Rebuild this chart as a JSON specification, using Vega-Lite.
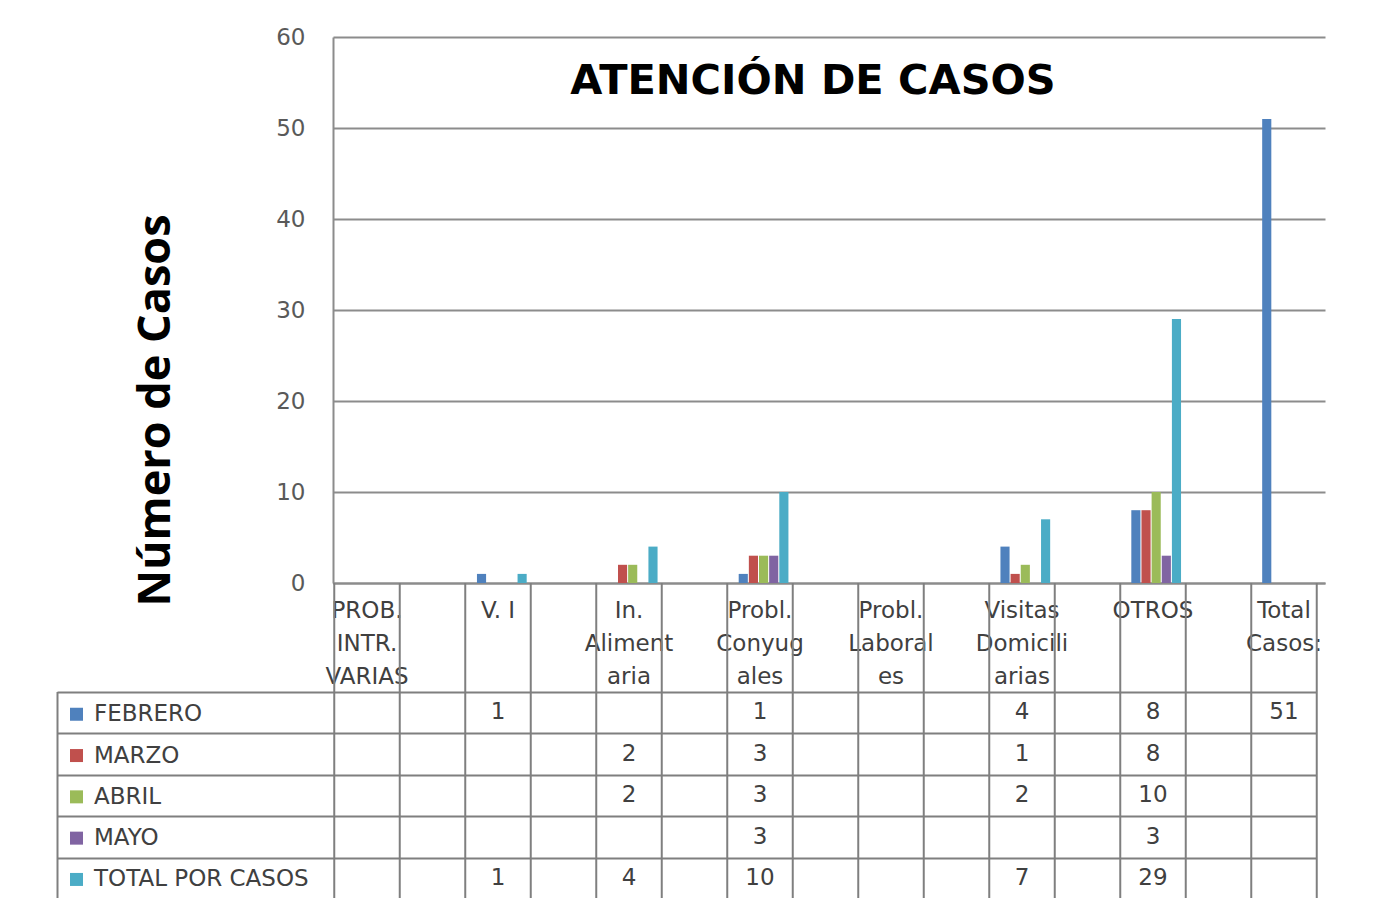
{
  "$schema": "https://vega.github.io/schema/vega-lite/v6.json",
  "background": "white",
  "padding": {"left": 56, "top": 26, "right": 5, "bottom": 0},
  "config": {"view": {"stroke": null}, "font": "DejaVu Sans"},
  "spacing": 0,
  "bounds": "flush",
  "datasets": {
    "cases": [
      {"categoria": "V. I", "serie": "FEBRERO", "casos": 1},
      {"categoria": "V. I", "serie": "TOTAL POR CASOS", "casos": 1},
      {"categoria": "In. Alimentaria", "serie": "MARZO", "casos": 2},
      {"categoria": "In. Alimentaria", "serie": "ABRIL", "casos": 2},
      {"categoria": "In. Alimentaria", "serie": "TOTAL POR CASOS", "casos": 4},
      {"categoria": "Probl. Conyugales", "serie": "FEBRERO", "casos": 1},
      {"categoria": "Probl. Conyugales", "serie": "MARZO", "casos": 3},
      {"categoria": "Probl. Conyugales", "serie": "ABRIL", "casos": 3},
      {"categoria": "Probl. Conyugales", "serie": "MAYO", "casos": 3},
      {"categoria": "Probl. Conyugales", "serie": "TOTAL POR CASOS", "casos": 10},
      {"categoria": "Visitas Domiciliarias", "serie": "FEBRERO", "casos": 4},
      {"categoria": "Visitas Domiciliarias", "serie": "MARZO", "casos": 1},
      {"categoria": "Visitas Domiciliarias", "serie": "ABRIL", "casos": 2},
      {"categoria": "Visitas Domiciliarias", "serie": "TOTAL POR CASOS", "casos": 7},
      {"categoria": "OTROS", "serie": "FEBRERO", "casos": 8},
      {"categoria": "OTROS", "serie": "MARZO", "casos": 8},
      {"categoria": "OTROS", "serie": "ABRIL", "casos": 10},
      {"categoria": "OTROS", "serie": "MAYO", "casos": 3},
      {"categoria": "OTROS", "serie": "TOTAL POR CASOS", "casos": 29},
      {"categoria": "Total Casos:", "serie": "FEBRERO", "casos": 51}
    ],
    "cats": [
      {"categoria": "PROB. INTR. VARIAS"},
      {"categoria": "V. I"},
      {"categoria": "In. Alimentaria"},
      {"categoria": "Probl. Conyugales"},
      {"categoria": "Probl. Laborales"},
      {"categoria": "Visitas Domiciliarias"},
      {"categoria": "OTROS"},
      {"categoria": "Total Casos:"}
    ]
  },
  "vconcat": [
    {
      "width": 992,
      "height": 546,
      "data": {"name": "cases"},
      "title": {"text": "ATENCIÓN DE CASOS", "font": "DejaVu Sans", "fontSize": 41.5, "fontWeight": "bold", "color": "#000000", "anchor": "middle", "baseline": "top", "offset": -76, "dx": -16},
      "mark": {"type": "bar"},
      "encoding": {
        "x": {
          "field": "categoria", "type": "nominal",
          "scale": {"domain": ["PROB. INTR. VARIAS", "V. I", "In. Alimentaria", "Probl. Conyugales", "Probl. Laborales", "Visitas Domiciliarias", "OTROS", "Total Casos:"], "paddingInner": 0.62, "paddingOuter": 0.1},
          "axis": {"labels": false, "ticks": false, "title": null, "grid": false, "domainColor": "#8c8c8c", "domainWidth": 2}
        },
        "xOffset": {"field": "serie", "type": "nominal", "scale": {"domain": ["FEBRERO", "MARZO", "ABRIL", "MAYO", "TOTAL POR CASOS"], "paddingInner": 0.1}},
        "y": {
          "field": "casos", "type": "quantitative",
          "scale": {"domain": [0, 60], "nice": false},
          "axis": {"values": [0, 10, 20, 30, 40, 50, 60], "title": "Número de Casos", "titleFont": "Open Sans", "titleFontSize": 45, "titleFontWeight": "bold", "titleColor": "#000000", "titleAngle": 270, "titleX": -178, "titleY": 373, "titleAlign": "center", "titleBaseline": "middle", "labelFont": "DejaVu Sans", "labelFontSize": 23, "labelColor": "#595959", "labelPadding": 28, "ticks": false, "domainColor": "#8c8c8c", "domainWidth": 2, "gridColor": "#8c8c8c", "gridWidth": 2}
        },
        "color": {
          "field": "serie", "type": "nominal",
          "scale": {"domain": ["FEBRERO", "MARZO", "ABRIL", "MAYO", "TOTAL POR CASOS"], "range": ["#4F81BD", "#C0504D", "#9BBB59", "#8064A2", "#4BACC6"]},
          "legend": {"orient": "none", "legendX": -268, "legendY": 665.75, "title": null, "symbolType": "square", "symbolSize": 169, "symbolStrokeWidth": 0, "labelFont": "DejaVu Sans", "labelFontSize": 23, "labelColor": "#404040", "labelLimit": 0, "rowPadding": 17.3, "labelOffset": 6, "direction": "vertical"}
        }
      }
    },
    {
      "width": 983,
      "height": 316,
      "layer": [
        {
          "data": {"name": "cats"},
          "mark": {"type": "rule", "color": "#7f7f7f", "strokeWidth": 2},
          "encoding": {
            "x": {"field": "categoria", "type": "nominal", "bandPosition": 0.25, "scale": {"domain": ["PROB. INTR. VARIAS", "V. I", "In. Alimentaria", "Probl. Conyugales", "Probl. Laborales", "Visitas Domiciliarias", "OTROS", "Total Casos:"], "range": [-31.5, 1016.5], "paddingInner": 0, "paddingOuter": 0}}
          }
        },
        {
          "data": {"name": "cats"},
          "mark": {"type": "rule", "color": "#7f7f7f", "strokeWidth": 2},
          "encoding": {
            "x": {"field": "categoria", "type": "nominal", "bandPosition": 0.75, "scale": {"domain": ["PROB. INTR. VARIAS", "V. I", "In. Alimentaria", "Probl. Conyugales", "Probl. Laborales", "Visitas Domiciliarias", "OTROS", "Total Casos:"], "range": [-31.5, 1016.5], "paddingInner": 0, "paddingOuter": 0}}
          }
        },
        {
          "data": {"name": "cases"},
          "mark": {"type": "text", "font": "DejaVu Sans", "fontSize": 23, "color": "#404040"},
          "encoding": {
            "x": {
              "field": "categoria", "type": "nominal",
              "scale": {"domain": ["PROB. INTR. VARIAS", "V. I", "In. Alimentaria", "Probl. Conyugales", "Probl. Laborales", "Visitas Domiciliarias", "OTROS", "Total Casos:"], "range": [-31.5, 1016.5], "paddingInner": 0, "paddingOuter": 0},
              "axis": {"orient": "top", "title": null, "domain": false, "ticks": false, "grid": false, "labelAngle": 0, "labelAlign": "center", "labelFont": "DejaVu Sans", "labelFontSize": 23, "labelColor": "#404040", "labelBaseline": "top", "labelPadding": -16, "labelLineHeight": 33, "labelLimit": 0,
                "labelExpr": "datum.label == 'PROB. INTR. VARIAS' ? ['PROB.', 'INTR.', 'VARIAS'] : datum.label == 'In. Alimentaria' ? ['In.', 'Aliment', 'aria'] : datum.label == 'Probl. Conyugales' ? ['Probl.', 'Conyug', 'ales'] : datum.label == 'Probl. Laborales' ? ['Probl.', 'Laboral', 'es'] : datum.label == 'Visitas Domiciliarias' ? ['Visitas', 'Domicili', 'arias'] : datum.label == 'Total Casos:' ? ['Total', 'Casos:'] : datum.label"}
            },
            "y": {
              "field": "serie", "type": "nominal",
              "scale": {"domain": ["FEBRERO", "MARZO", "ABRIL", "MAYO", "TOTAL POR CASOS"], "range": [108.5, 316], "paddingInner": 0, "paddingOuter": 0},
              "axis": {"orient": "left", "offset": 276, "tickSize": -1259, "tickBand": "extent", "labels": false, "title": null, "grid": false, "domainColor": "#7f7f7f", "domainWidth": 2, "tickColor": "#7f7f7f", "tickWidth": 2}
            },
            "text": {"field": "casos", "type": "quantitative"}
          }
        }
      ]
    }
  ]
}
